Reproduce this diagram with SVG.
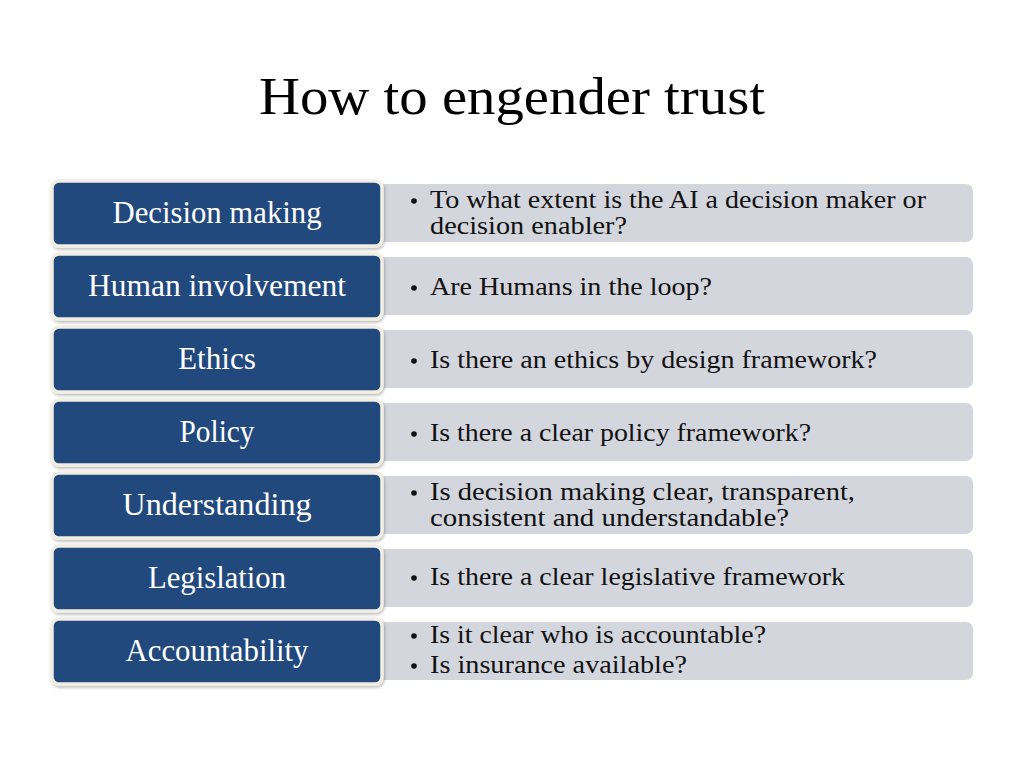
<svg xmlns="http://www.w3.org/2000/svg" width="1024" height="768" viewBox="0 0 1024 768">
<defs>
<filter id="sh" x="-5%" y="-10%" width="110%" height="130%">
<feDropShadow dx="1" dy="2" stdDeviation="1.5" flood-color="#000" flood-opacity="0.25"/>
</filter>
</defs>
<style>
.title{font-family:"Liberation Serif","DejaVu Serif",serif;font-size:52px;fill:#000}
.lab{font-family:"Liberation Serif","DejaVu Serif",serif;font-size:31px;fill:#fff;text-anchor:middle}
.txt{font-family:"Liberation Serif","DejaVu Serif",serif;font-size:26px;fill:#111}
.bul{fill:#111}
.grey{fill:#d4d6dd}
.blue{fill:#224a7e;stroke:#f1eee3;stroke-width:3.5}
</style>
<rect width="1024" height="768" fill="#fff"/>
<text class="title" x="259" y="114" textLength="506" lengthAdjust="spacingAndGlyphs">How to engender trust</text>

<g id="row1">
<rect class="grey" x="370" y="184" width="603" height="58" rx="7"/>
<rect class="blue" x="52" y="181" width="330" height="65" rx="7" filter="url(#sh)"/>
<text class="lab" x="217" y="223" textLength="209" lengthAdjust="spacingAndGlyphs">Decision making</text>
<circle class="bul" cx="414" cy="201" r="2.8"/>
<text class="txt" x="430" y="208" textLength="496" lengthAdjust="spacingAndGlyphs">To what extent is the AI a decision maker or</text>
<text class="txt" x="430" y="234" textLength="197" lengthAdjust="spacingAndGlyphs">decision enabler?</text>
</g>

<g id="row2">
<rect class="grey" x="370" y="257" width="603" height="58" rx="7"/>
<rect class="blue" x="52" y="254" width="330" height="65" rx="7" filter="url(#sh)"/>
<text class="lab" x="217" y="296" textLength="258" lengthAdjust="spacingAndGlyphs">Human involvement</text>
<circle class="bul" cx="414" cy="288" r="2.8"/>
<text class="txt" x="430" y="295" textLength="282" lengthAdjust="spacingAndGlyphs">Are Humans in the loop?</text>
</g>

<g id="row3">
<rect class="grey" x="370" y="330" width="603" height="58" rx="7"/>
<rect class="blue" x="52" y="327" width="330" height="65" rx="7" filter="url(#sh)"/>
<text class="lab" x="217" y="369" textLength="78" lengthAdjust="spacingAndGlyphs">Ethics</text>
<circle class="bul" cx="414" cy="361" r="2.8"/>
<text class="txt" x="430" y="368" textLength="447" lengthAdjust="spacingAndGlyphs">Is there an ethics by design framework?</text>
</g>

<g id="row4">
<rect class="grey" x="370" y="403" width="603" height="58" rx="7"/>
<rect class="blue" x="52" y="400" width="330" height="65" rx="7" filter="url(#sh)"/>
<text class="lab" x="217" y="442" textLength="75" lengthAdjust="spacingAndGlyphs">Policy</text>
<circle class="bul" cx="414" cy="434" r="2.8"/>
<text class="txt" x="430" y="441" textLength="381" lengthAdjust="spacingAndGlyphs">Is there a clear policy framework?</text>
</g>

<g id="row5">
<rect class="grey" x="370" y="476" width="603" height="58" rx="7"/>
<rect class="blue" x="52" y="473" width="330" height="65" rx="7" filter="url(#sh)"/>
<text class="lab" x="217" y="515" textLength="189" lengthAdjust="spacingAndGlyphs">Understanding</text>
<circle class="bul" cx="414" cy="493" r="2.8"/>
<text class="txt" x="430" y="500" textLength="425" lengthAdjust="spacingAndGlyphs">Is decision making clear, transparent,</text>
<text class="txt" x="430" y="526" textLength="359" lengthAdjust="spacingAndGlyphs">consistent and understandable?</text>
</g>

<g id="row6">
<rect class="grey" x="370" y="549" width="603" height="58" rx="7"/>
<rect class="blue" x="52" y="546" width="330" height="65" rx="7" filter="url(#sh)"/>
<text class="lab" x="217" y="588" textLength="138" lengthAdjust="spacingAndGlyphs">Legislation</text>
<circle class="bul" cx="414" cy="578" r="2.8"/>
<text class="txt" x="430" y="585" textLength="415" lengthAdjust="spacingAndGlyphs">Is there a clear legislative framework</text>
</g>

<g id="row7">
<rect class="grey" x="370" y="622" width="603" height="58" rx="7"/>
<rect class="blue" x="52" y="619" width="330" height="65" rx="7" filter="url(#sh)"/>
<text class="lab" x="217" y="661" textLength="183" lengthAdjust="spacingAndGlyphs">Accountability</text>
<circle class="bul" cx="414" cy="636" r="2.8"/>
<text class="txt" x="430" y="643" textLength="336" lengthAdjust="spacingAndGlyphs">Is it clear who is accountable?</text>
<circle class="bul" cx="414" cy="666" r="2.8"/>
<text class="txt" x="430" y="673" textLength="257" lengthAdjust="spacingAndGlyphs">Is insurance available?</text>
</g>
</svg>
